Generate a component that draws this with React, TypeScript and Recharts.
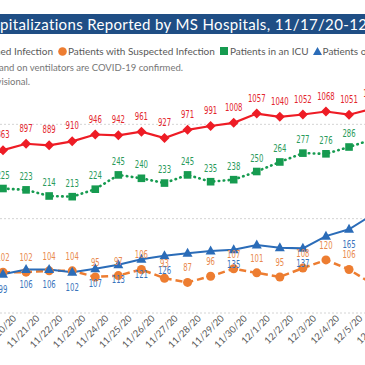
import React from "react";
import { LineChart, Line, XAxis, YAxis, CartesianGrid, LabelList } from "recharts";

// visible window of the daily chart (11/20 .. 12/5) plus the next day, which runs off the right edge
const dates = [
  "11/20/20", "11/21/20", "11/22/20", "11/23/20", "11/24/20", "11/25/20", "11/26/20", "11/27/20", "11/28/20",
  "11/29/20", "11/30/20", "12/1/20", "12/2/20", "12/3/20", "12/4/20", "12/5/20", "12/6/20",
];
const confirmed = [863, 897, 889, 910, 946, 942, 961, 927, 971, 991, 1008, 1057, 1040, 1052, 1068, 1051, 1083];
const suspected = [102, 102, 104, 104, 95, 97, 106, 93, 87, 96, 107, 101, 95, 108, 120, 106, 85];
const icu = [225, 223, 214, 213, 224, 245, 240, 233, 245, 235, 238, 250, 264, 277, 276, 286, 297];
const ventilators = [99, 106, 106, 102, 107, 113, 121, 126, 130, 133, 135, 142, 138, 137, 155, 165, 186];
const confirmedTicks = [0, 500, 1000, 1500];

const rows = dates.map((date, i) => ({
  date,
  confirmed: confirmed[i],
  suspected: suspected[i],
  icu: icu[i],
  ventilators: ventilators[i],
}));

const RED = "#EE1C25";
const ORANGE = "#ED7D31";
const GREEN = "#169B50";
const BLUE = "#2B6CB8";
const GREY = "#595959";
const NARROW = "'Liberation Sans Narrow', 'DejaVu Sans Condensed', Roboto, sans-serif";
const SANS = "Lato, 'Open Sans', sans-serif";

const diamondDot = (p: any) => {
  const { cx, cy, index } = p;
  if (cx == null || cy == null) return <g key={`rd-${index}`} />;
  return <path key={`rd-${index}`} d={`M${cx} ${cy - 5}L${cx + 5} ${cy}L${cx} ${cy + 5}L${cx - 5} ${cy}Z`} fill={RED} />;
};
const squareDot = (p: any) => {
  const { cx, cy, index } = p;
  if (cx == null || cy == null) return <g key={`gs-${index}`} />;
  return <rect key={`gs-${index}`} x={cx - 3.8} y={cy - 3.8} width={7.6} height={7.6} fill={GREEN} />;
};
const circleDot = (p: any) => {
  const { cx, cy, index } = p;
  if (cx == null || cy == null) return <g key={`oc-${index}`} />;
  return <circle key={`oc-${index}`} cx={cx} cy={cy} r={4.5} fill={ORANGE} />;
};
const triangleDot = (p: any) => {
  const { cx, cy, index } = p;
  if (cx == null || cy == null) return <g key={`bt-${index}`} />;
  return <path key={`bt-${index}`} d={`M${cx} ${cy - 5.5}L${cx + 5} ${cy + 3.5}L${cx - 5} ${cy + 3.5}Z`} fill={BLUE} />;
};

// ventilator labels that would sit right on top of the suspected-infection labels are left off
const ventLabelHidden = (i: number) => {
  const gap = ventilators[i] - suspected[i];
  return gap >= 34 && gap <= 56;
};

const makeLabel = (color: string, dy: number, hidden?: (i: number) => boolean) => (p: any) => {
  const vb = p.viewBox || {};
  const x = p.x ?? vb.x;
  const y = p.y ?? vb.y;
  if (x == null || y == null) return null;
  if (hidden && hidden(p.index)) return null;
  const txt = String(p.value);
  return (
    <text
      key={`lb-${color}-${p.index}`}
      x={x - txt.length * 2.2}
      y={y + dy}
      textLength={txt.length * 4.4}
      lengthAdjust="spacingAndGlyphs"
      fontSize={10.5}
      fontFamily={NARROW}
      fill={color}
    >
      {txt}
    </text>
  );
};

const DateTick = (p: any) => {
  const { x, y, payload } = p;
  return (
    <g transform={`translate(${x + 14},${y + 6})`}>
      <text textAnchor="end" transform="rotate(-45)" fontSize={9.5} fontFamily={SANS} fill={GREY}>
        {payload.value}
      </text>
    </g>
  );
};

const Swatch = ({ kind, color }: { kind: string; color: string }) => {
  if (kind === "circle") return <svg width={9} height={9} style={{ marginRight: 1 }}><circle cx={4.5} cy={4.5} r={4.3} fill={color} /></svg>;
  if (kind === "square") return <svg width={8} height={8} style={{ marginRight: 2 }}><rect width={8} height={8} fill={color} /></svg>;
  if (kind === "triangle") return <svg width={9} height={8} style={{ marginRight: 1 }}><path d="M4.5 0L9 8L0 8Z" fill={color} /></svg>;
  return <svg width={9} height={9} style={{ marginRight: 1 }}><path d="M4.5 0L9 4.5L4.5 9L0 4.5Z" fill={color} /></svg>;
};

export default function App() {
  return (
    <div style={{ position: "fixed", left: 0, top: 0, width: 365, height: 365, overflow: "hidden", background: "#fff", fontFamily: SANS }}>
      <div style={{ position: "absolute", left: 0, top: 0 }}>
        <LineChart width={400} height={365} data={rows} margin={{ top: 30, right: 0, left: 0, bottom: 0 }}>
          <CartesianGrid vertical={false} stroke="#D4D4D4" strokeDasharray="2 2" />
          <XAxis
            dataKey="date"
            interval={0}
            height={52}
            axisLine={false}
            tickLine={false}
            tickSize={0}
            tickMargin={0}
            padding={{ left: 3, right: 27.9 }}
            tick={<DateTick />}
          />
          <YAxis hide domain={[0, 1500]} ticks={confirmedTicks} />
          <YAxis yAxisId="counts" hide domain={[42, 458]} />
          <Line dataKey="confirmed" stroke={RED} strokeWidth={2.2} dot={diamondDot} isAnimationActive={false}>
            <LabelList dataKey="confirmed" content={makeLabel("#E3262D", -12)} />
          </Line>
          <Line yAxisId="counts" dataKey="suspected" stroke={ORANGE} strokeWidth={2.5} strokeDasharray="7 4" dot={circleDot} isAnimationActive={false}>
            <LabelList dataKey="suspected" content={makeLabel("#E98A4E", -11)} />
          </Line>
          <Line yAxisId="counts" dataKey="icu" stroke={GREEN} strokeWidth={2.6} strokeDasharray="0.5 4.5" strokeLinecap="round" dot={squareDot} isAnimationActive={false}>
            <LabelList dataKey="icu" content={makeLabel("#2A9A5A", -10)} />
          </Line>
          <Line yAxisId="counts" dataKey="ventilators" stroke={BLUE} strokeWidth={2} dot={triangleDot} isAnimationActive={false}>
            <LabelList dataKey="ventilators" content={makeLabel("#3A74BC", 18.5, ventLabelHidden)} />
          </Line>
        </LineChart>
      </div>

      <div style={{ position: "absolute", left: 0, top: 14, width: 365, height: 20, background: "#1F4E85", color: "#fff", fontSize: 15, letterSpacing: 0.35, lineHeight: "20px", whiteSpace: "nowrap" }}>
        <span style={{ position: "absolute", right: "100%", top: 0 }}>COVID-19 Hos</span>
        <span style={{ position: "absolute", left: 0, top: 0 }}>pitalizations Reported by MS Hospitals, 11/17/20-12/16/20</span>
      </div>

      <div style={{ position: "absolute", right: 312, top: 44, height: 14, display: "flex", alignItems: "center", whiteSpace: "nowrap", fontSize: 10, color: GREY }}>
        <Swatch kind="diamond" color={RED} />
        <span>Patients with Confirmed Infection</span>
      </div>
      <div style={{ position: "absolute", left: 58, top: 44, height: 14, display: "flex", alignItems: "center", whiteSpace: "nowrap", fontSize: 10, color: GREY }}>
        <Swatch kind="circle" color={ORANGE} />
        <span style={{ marginRight: 5 }}>Patients with Suspected Infection</span>
        <Swatch kind="square" color={GREEN} />
        <span style={{ marginRight: 4 }}>Patients in an ICU</span>
        <Swatch kind="triangle" color={BLUE} />
        <span>Patients on Ventilators</span>
      </div>

      <div style={{ position: "absolute", right: 182, top: 62, fontSize: 9.5, lineHeight: "12px", color: "#767676", whiteSpace: "nowrap" }}>
        Patients in ICU and on ventilators are COVID-19 confirmed.
      </div>
      <div style={{ position: "absolute", right: 335, top: 76, fontSize: 9.5, lineHeight: "12px", color: "#767676", whiteSpace: "nowrap" }}>
        Data for the most recent days are provisional.
      </div>
    </div>
  );
}
